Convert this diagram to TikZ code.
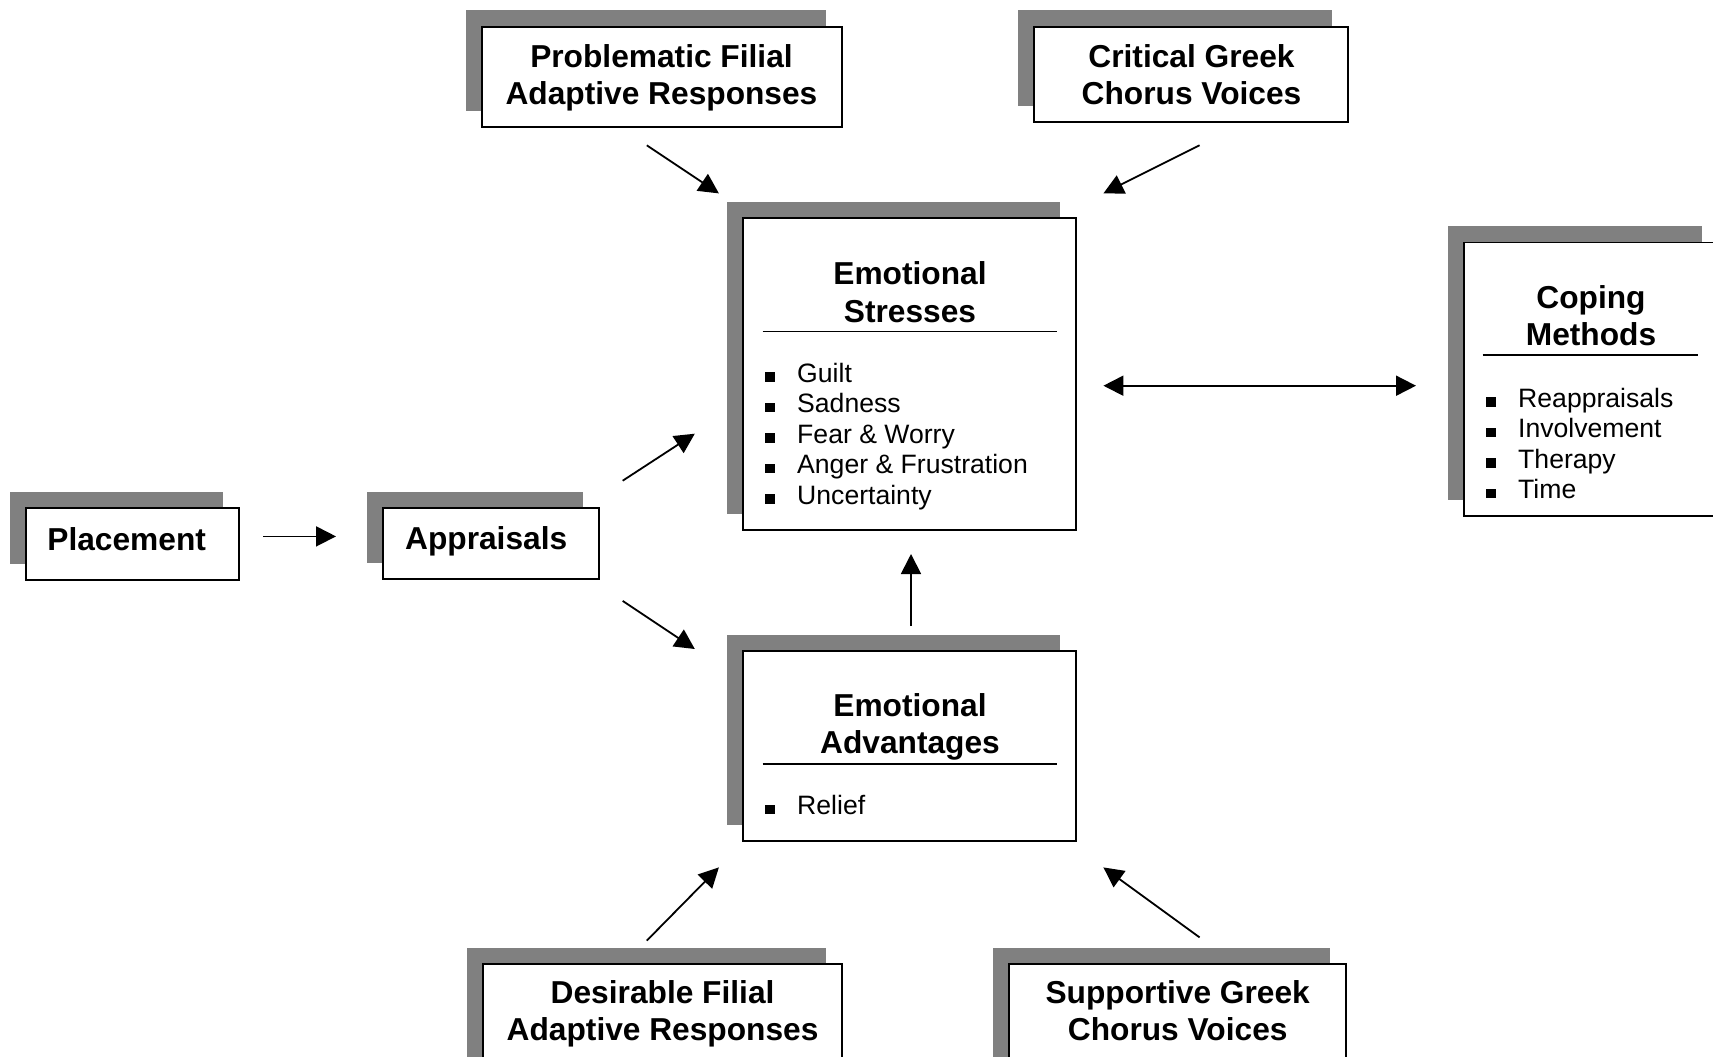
\documentclass[tikz,border=0pt]{standalone}
\usepackage{fontspec}
\setmainfont{Liberation Sans}
\usetikzlibrary{arrows.meta,shadows}
\definecolor{shadowgray}{HTML}{808080}
\newcommand\ttlfont{\fontsize{31.7}{37.5}\selectfont\bfseries}
\newcommand\itmfont{\fontsize{26.6}{30.6}\selectfont}
\newcommand\sqb{\makebox[32pt][l]{\rule[0.5pt]{9.5pt}{9.5pt}}}
\newcommand\twoline[2]{\begin{tabular}[t]{@{}c@{}}#1\\#2\end{tabular}}
\tikzset{
  boxnode/.style={draw=black, line width=1.8pt, fill=white, inner sep=0pt, outer sep=0pt,
    anchor=north west,
    drop shadow={shadow xshift=-16.5pt, shadow yshift=16.5pt, fill=shadowgray, opacity=1}},
  ttltext/.style={font=\ttlfont, inner sep=0pt, anchor=base},
  itemtext/.style={font=\itmfont, inner sep=0pt, anchor=base west},
  sepline/.style={line width=1.8pt},
  tip/.style={Triangle[length=20pt,width=20pt]},
  conn/.style={line width=1.8pt, -{Triangle[length=20pt,width=20pt]}},
  dconn/.style={line width=1.8pt, {Triangle[length=20pt,width=20pt]}-{Triangle[length=20pt,width=20pt]}},
}
\begin{document}
\begin{tikzpicture}[x=1pt,y=-1pt]
\useasboundingbox (0,0) rectangle (1713,1057);
\clip (0,0) rectangle (1713,1057);
\fill[white] (0,0) rectangle (1713,1057);

% boxes
\node[boxnode, minimum width=360pt, minimum height=100pt] (prob) at (482,27) {};
\node[boxnode, minimum width=314pt, minimum height=95pt] (crit) at (1034,27) {};
\node[boxnode, minimum width=333pt, minimum height=312pt] (stress) at (743,218) {};
\node[boxnode, minimum width=254pt, minimum height=273.5pt] (cope) at (1464,242.5) {};
\node[boxnode, minimum width=213pt, minimum height=72pt] (place) at (26,508) {};
\node[boxnode, minimum width=216pt, minimum height=71pt] (appr) at (383,508) {};
\node[boxnode, minimum width=333pt, minimum height=190pt] (adv) at (743,651) {};
\node[boxnode, minimum width=359pt, minimum height=110pt] (desir) at (483,964) {};
\node[boxnode, minimum width=337pt, minimum height=110pt] (supp) at (1009,964) {};

% titles
\node[ttltext] (prob-t) at (661.5,67) {\twoline{Problematic Filial}{Adaptive Responses}};
\node[ttltext] (crit-t) at (1191.5,67) {\twoline{Critical Greek}{Chorus Voices}};
\node[ttltext] (desir-t) at (662.6,1003.4) {\twoline{Desirable Filial}{Adaptive Responses}};
\node[ttltext] (supp-t) at (1177.7,1003.4) {\twoline{Supportive Greek}{Chorus Voices}};
\node[ttltext] (place-t) at (126.7,550) {Placement};
\node[ttltext] (appr-t) at (486.2,549) {Appraisals};
\node[ttltext] (stress-t) at (910,284.5) {\twoline{Emotional}{Stresses}};
\node[ttltext] (adv-t) at (910,716) {\twoline{Emotional}{Advantages}};
\node[ttltext] (cope-t) at (1591,308) {\twoline{Coping}{Methods}};

% separators
\draw[sepline] (762.5,331.5) -- (1056.5,331.5);
\draw[sepline] (762.5,763.6) -- (1056.5,763.6);
\draw[sepline] (1482.5,355) -- (1698,355);

% item lists
\node[itemtext] (stress-i) at (765,382) {\begin{tabular}[t]{@{}l@{}}\sqb Guilt\\\sqb Sadness\\\sqb Fear \& Worry\\\sqb Anger \& Frustration\\\sqb Uncertainty\end{tabular}};
\node[itemtext] (cope-i) at (1486,407) {\begin{tabular}[t]{@{}l@{}}\sqb Reappraisals\\\sqb Involvement\\\sqb Therapy\\\sqb Time\end{tabular}};
\node[itemtext] (adv-i) at (765,814.5) {\begin{tabular}[t]{@{}l@{}}\sqb Relief\end{tabular}};

% connector ends
\coordinate (pa1) at (263,536.4);  \coordinate (pa2) at (336,536.4);
\coordinate (ps1) at (646.8,145.3); \coordinate (ps2) at (718.9,193.4);
\coordinate (cs1) at (1199.6,145.3); \coordinate (cs2) at (1103.4,193.4);
\coordinate (as1) at (622.7,480.7); \coordinate (as2) at (694.8,433.7);
\coordinate (aa1) at (622.7,600.9); \coordinate (aa2) at (694.8,649);
\coordinate (vs1) at (911,626);     \coordinate (vs2) at (911,554);
\coordinate (dc1) at (1103.4,385.7); \coordinate (dc2) at (1416,385.7);
\coordinate (da1) at (646.8,940.6); \coordinate (da2) at (718.9,867.4);
\coordinate (sa1) at (1199.6,937.4); \coordinate (sa2) at (1103.4,867.4);

\draw[conn] (pa1) -- (pa2);
\draw[conn] (ps1) -- (ps2);
\draw[conn] (cs1) -- (cs2);
\draw[conn] (as1) -- (as2);
\draw[conn] (aa1) -- (aa2);
\draw[conn] (vs1) -- (vs2);
\draw[dconn] (dc1) -- (dc2);
\draw[conn] (da1) -- (da2);
\draw[conn] (sa1) -- (sa2);
\end{tikzpicture}
\end{document}
